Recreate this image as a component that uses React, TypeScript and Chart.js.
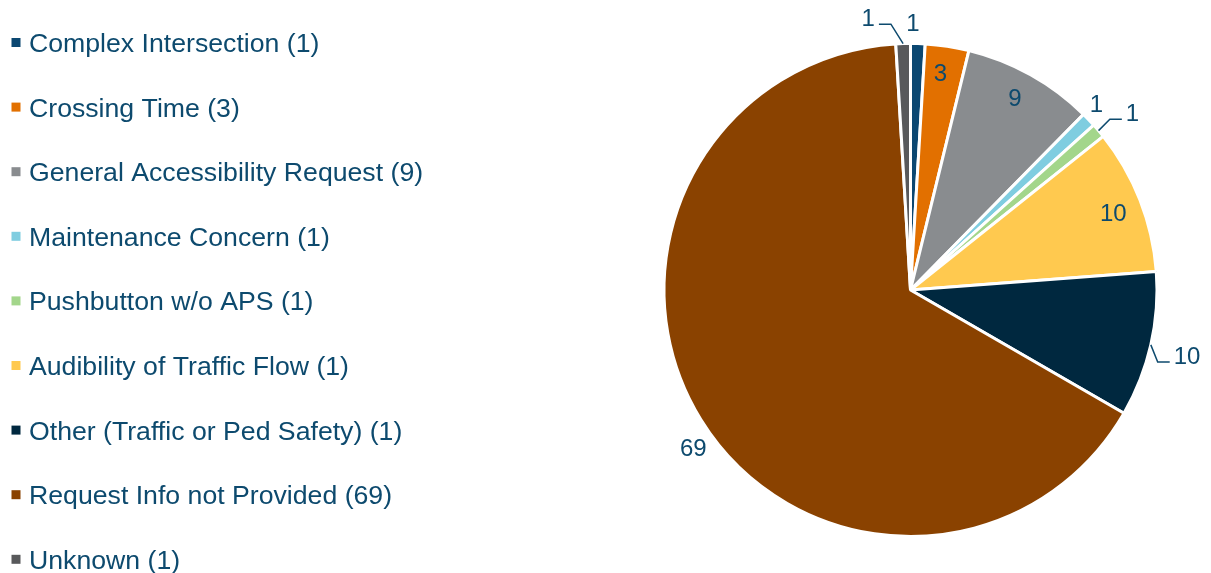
import React, { useEffect, useRef } from "react";
import { Chart, registerables } from "chart.js";

Chart.register(...registerables);

const categories = [
  "Complex Intersection",
  "Crossing Time",
  "General Accessibility Request",
  "Maintenance Concern",
  "Pushbutton w/o APS",
  "Audibility of Traffic Flow",
  "Other (Traffic or Ped Safety)",
  "Request Info not Provided",
  "Unknown",
];
const values = [1, 3, 9, 1, 1, 10, 10, 69, 1];
const legendLabels = [
  "Complex Intersection (1)",
  "Crossing Time (3)",
  "General Accessibility Request (9)",
  "Maintenance Concern (1)",
  "Pushbutton w/o APS (1)",
  "Audibility of Traffic Flow (1)",
  "Other (Traffic or Ped Safety) (1)",
  "Request Info not Provided (69)",
  "Unknown (1)",
];
const colors = [
  "#0B4771",
  "#E27000",
  "#898C8F",
  "#7FCDE0",
  "#A3D68B",
  "#FFC94F",
  "#00283F",
  "#8A4200",
  "#58595B",
];

const TEXT = "#0D4A6E";
const FONT = '"Liberation Sans", Arial, sans-serif';

// label placement style relative to each slice (angle nudge in degrees)
const labelPlacement = [
  { mode: "out", nudge: -1.2, dist: 21 },
  { mode: "in", nudge: -0.7, frac: 0.89 },
  { mode: "in", nudge: -0.7, frac: 0.89 },
  { mode: "out", nudge: -1.4, dist: 17 },
  { mode: "leader", nudge: -0.3, dist: 16 },
  { mode: "in", nudge: 0.6, frac: 0.88 },
  { mode: "leader", nudge: 3.4, dist: 11 },
  { mode: "out", nudge: -4.3, dist: 22 },
  { mode: "leader", nudge: -2.5, dist: 20 },
];

const legendPlugin = {
  id: "customLegend",
  afterDraw(chart: any) {
    const ctx = chart.ctx;
    ctx.save();
    ctx.font = `26.67px ${FONT}`;
    ctx.textAlign = "left";
    ctx.textBaseline = "alphabetic";
    legendLabels.forEach((t, i) => {
      const yc = 42.5 + i * 64.6;
      ctx.fillStyle = colors[i];
      ctx.fillRect(11.5, yc - 4.5, 9, 9);
      ctx.fillStyle = TEXT;
      ctx.fillText(t, 29, yc + 9.5);
    });
    ctx.restore();
  },
};

const labelPlugin = {
  id: "sliceLabels",
  afterDatasetsDraw(chart: any) {
    const ctx = chart.ctx;
    const meta = chart.getDatasetMeta(0);
    ctx.save();
    ctx.font = `24px ${FONT}`;
    ctx.fillStyle = TEXT;
    ctx.strokeStyle = TEXT;
    ctx.lineWidth = 1.5;
    meta.data.forEach((arc: any, i: number) => {
      const { x, y, startAngle, endAngle, outerRadius } = arc.getProps(
        ["x", "y", "startAngle", "endAngle", "outerRadius"],
        true
      );
      const mid = (startAngle + endAngle) / 2;
      const p: any = labelPlacement[i];
      const a = mid + (p.nudge * Math.PI) / 180;
      const text = String(values[i]);
      if (p.mode === "in" || p.mode === "out") {
        const r = p.mode === "in" ? outerRadius * p.frac : outerRadius + p.dist;
        const lx = x + r * Math.cos(a);
        const ly = y + r * Math.sin(a);
        ctx.textAlign = "center";
        ctx.textBaseline = "alphabetic";
        ctx.fillText(text, lx, ly + 8.6);
      } else {
        const ex = x + outerRadius * Math.cos(mid);
        const ey = y + outerRadius * Math.sin(mid);
        const r = outerRadius + p.dist;
        const bx = x + r * Math.cos(a);
        const by = y + r * Math.sin(a);
        const dir = Math.cos(a) >= 0 ? 1 : -1;
        const hx = bx + dir * 12;
        ctx.beginPath();
        ctx.moveTo(ex, ey);
        ctx.lineTo(bx, by);
        ctx.lineTo(hx, by);
        ctx.stroke();
        ctx.textAlign = dir > 0 ? "left" : "right";
        ctx.textBaseline = "alphabetic";
        ctx.fillText(text, hx + dir * 4, by - 7 + 8.6);
      }
    });
    ctx.restore();
  },
};

export default function App() {
  const ref = useRef<HTMLCanvasElement | null>(null);
  useEffect(() => {
    document.body.style.margin = "0";
    const chart = new Chart(ref.current!, {
      type: "pie",
      data: {
        labels: categories,
        datasets: [
          {
            data: values,
            backgroundColor: colors,
            borderColor: "#ffffff",
            borderWidth: 3,
          },
        ],
      },
      options: {
        responsive: false,
        animation: false,
        layout: { padding: { left: 662.5, right: 52.5, top: 42, bottom: 35 } },
        plugins: {
          legend: { display: false },
          tooltip: { enabled: false },
        },
      },
      plugins: [legendPlugin, labelPlugin],
    });
    return () => chart.destroy();
  }, []);
  return (
    <div style={{ position: "absolute", left: 0, top: 0, width: 1211, height: 573, background: "#fff" }}>
      <canvas ref={ref} width={1211} height={573} />
    </div>
  );
}
